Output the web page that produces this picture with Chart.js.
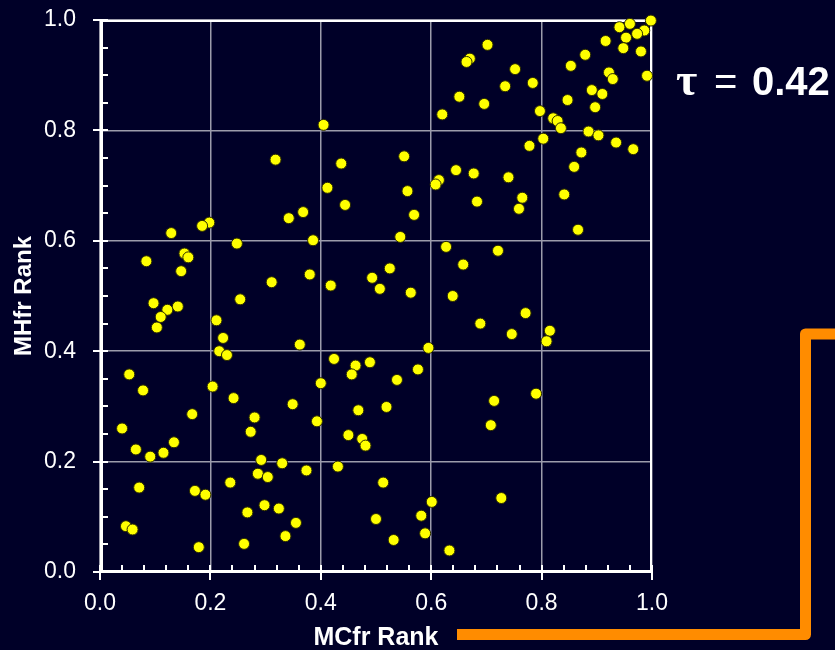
<!DOCTYPE html>
<html>
<head>
<meta charset="utf-8">
<script src="https://cdn.jsdelivr.net/npm/chart.js@4.4.1/dist/chart.umd.min.js"></script>
<style>
  html, body { margin: 0; padding: 0; background: #000028; }
  canvas { display: block; }
</style>
</head>
<body>
<canvas id="myScatter" width="835" height="650"></canvas>
<script>
  // MCfr rank (x) vs MHfr rank (y)
  const mc_rank = [
    0.998, 0.960, 0.941, 0.986, 0.973, 0.953, 0.916, 0.948, 0.980, 0.991,
    0.879, 0.853, 0.702, 0.670, 0.664, 0.922, 0.929, 0.752, 0.734, 0.784,
    0.891, 0.910, 0.847, 0.897, 0.651, 0.696, 0.620, 0.797, 0.821, 0.829,
    0.835, 0.885, 0.903, 0.935, 0.966, 0.803, 0.778, 0.872, 0.859, 0.551,
    0.645, 0.677, 0.740, 0.614, 0.608, 0.557, 0.683, 0.765, 0.759, 0.841,
    0.569, 0.405, 0.318, 0.437, 0.412, 0.444, 0.368, 0.342, 0.198, 0.185,
    0.129, 0.248, 0.386, 0.153, 0.160, 0.084, 0.147, 0.311, 0.380, 0.418,
    0.493, 0.254, 0.097, 0.141, 0.122, 0.110, 0.103, 0.211, 0.223, 0.216,
    0.230, 0.362, 0.424, 0.463, 0.456, 0.489, 0.053, 0.078, 0.204, 0.242,
    0.349, 0.400, 0.468, 0.866, 0.544, 0.627, 0.721, 0.658, 0.525, 0.507,
    0.563, 0.639, 0.771, 0.689, 0.746, 0.815, 0.809, 0.595, 0.576, 0.538,
    0.519, 0.714, 0.790, 0.167, 0.040, 0.280, 0.273, 0.393, 0.450, 0.475,
    0.481, 0.065, 0.091, 0.115, 0.134, 0.292, 0.330, 0.286, 0.304, 0.374,
    0.431, 0.071, 0.172, 0.191, 0.236, 0.298, 0.324, 0.267, 0.355, 0.336,
    0.261, 0.179, 0.047, 0.059, 0.708, 0.513, 0.601, 0.727, 0.500, 0.582,
    0.589, 0.532, 0.633
  ];
  const mh_rank = [
    0.999, 0.993, 0.987, 0.981, 0.975, 0.968, 0.962, 0.949, 0.943, 0.899,
    0.937, 0.917, 0.955, 0.930, 0.924, 0.905, 0.893, 0.911, 0.880, 0.886,
    0.873, 0.866, 0.855, 0.842, 0.861, 0.848, 0.829, 0.835, 0.822, 0.817,
    0.804, 0.798, 0.791, 0.778, 0.766, 0.785, 0.772, 0.760, 0.734, 0.753,
    0.728, 0.722, 0.715, 0.710, 0.702, 0.690, 0.671, 0.678, 0.658, 0.684,
    0.647, 0.810, 0.747, 0.740, 0.696, 0.665, 0.652, 0.641, 0.633, 0.627,
    0.614, 0.595, 0.601, 0.577, 0.570, 0.563, 0.545, 0.525, 0.539, 0.519,
    0.533, 0.494, 0.487, 0.481, 0.475, 0.462, 0.443, 0.456, 0.424, 0.400,
    0.393, 0.412, 0.386, 0.374, 0.358, 0.380, 0.358, 0.329, 0.336, 0.315,
    0.304, 0.342, 0.293, 0.620, 0.607, 0.589, 0.582, 0.557, 0.550, 0.513,
    0.506, 0.500, 0.469, 0.450, 0.431, 0.437, 0.418, 0.406, 0.367, 0.348,
    0.299, 0.310, 0.323, 0.286, 0.260, 0.280, 0.254, 0.273, 0.248, 0.241,
    0.229, 0.222, 0.209, 0.216, 0.235, 0.203, 0.197, 0.178, 0.172, 0.184,
    0.191, 0.153, 0.147, 0.140, 0.162, 0.121, 0.115, 0.108, 0.089, 0.065,
    0.051, 0.045, 0.083, 0.077, 0.266, 0.162, 0.127, 0.134, 0.096, 0.102,
    0.070, 0.058, 0.039
  ];
  const tick_labels = ['0.0', '0.2', '0.4', '0.6', '0.8', '1.0'];
  const x_minor_step = 0.04;
  const y_minor_step = 0.05;
  const tau_value = '0.42';

  const my_scatter = document.getElementById('myScatter');
  const sans = "'Liberation Sans', Arial, sans-serif";

  const points = mc_rank.map((x, i) => ({ x: x, y: mh_rank[i] }));

  // white axes, frame and tick marks (minor ticks point inwards)
  const axes_plugin = {
    id: 'axesDeco',
    beforeDatasetsDraw(chart) {
      const ctx = chart.ctx;
      const a = chart.chartArea;
      const xs = chart.scales.x, ys = chart.scales.y;
      ctx.save();
      ctx.strokeStyle = '#ffffff';
      ctx.lineWidth = 2;
      ctx.beginPath();
      ctx.moveTo(a.left, a.top + 1); ctx.lineTo(a.right - 1, a.top + 1); ctx.lineTo(a.right - 1, a.bottom);
      ctx.stroke();

      ctx.lineWidth = 2;
      ctx.beginPath();
      for (let v = 0; v <= 1.0001; v += x_minor_step) {
        const px = Math.round(xs.getPixelForValue(v));
        const major = Math.abs(v * 5 - Math.round(v * 5)) < 1e-6;
        ctx.moveTo(px, a.bottom - 7);
        ctx.lineTo(px, major ? a.bottom + 8 : a.bottom);
      }
      for (let v = 0; v <= 1.0001; v += y_minor_step) {
        const py = Math.round(ys.getPixelForValue(v));
        const major = Math.abs(v * 5 - Math.round(v * 5)) < 1e-6;
        ctx.moveTo(major ? a.left - 7 : a.left, py);
        ctx.lineTo(a.left + 8, py);
      }
      ctx.stroke();

      ctx.lineWidth = 3;
      ctx.beginPath();
      ctx.moveTo(a.left + 1.5, a.top);
      ctx.lineTo(a.left + 1.5, a.bottom - 0.5);
      ctx.lineTo(a.right, a.bottom - 0.5);
      ctx.stroke();
      ctx.restore();
    },
    afterDraw(chart) {
      const ctx = chart.ctx;
      ctx.save();
      // tau annotation
      ctx.fillStyle = '#ffffff';
      ctx.textBaseline = 'alphabetic';
      ctx.font = "bold 46px 'Liberation Serif', serif";
      ctx.fillText('τ', 676, 95);
      ctx.font = "40px " + sans;
      ctx.fillText('=', 714, 95);
      ctx.font = "bold 40px " + sans;
      ctx.fillText(tau_value, 752, 95);

      // orange connector line
      ctx.strokeStyle = '#ff8c00';
      ctx.lineWidth = 11;
      ctx.lineJoin = 'round';
      ctx.beginPath();
      ctx.moveTo(457, 634.5);
      ctx.lineTo(805.5, 634.5);
      ctx.lineTo(805.5, 334);
      ctx.lineTo(840, 334);
      ctx.stroke();
      ctx.restore();
    }
  };

  new Chart(my_scatter, {
    type: 'scatter',
    data: {
      datasets: [{
        label: 'Ranks',
        data: points,
        backgroundColor: '#ffff00',
        borderColor: '#2a2a00',
        borderWidth: 1,
        pointRadius: 5.5,
        clip: false
      }]
    },
    options: {
      responsive: false,
      animation: false,
      layout: { padding: { top: 20, right: 183, left: 0, bottom: 0 } },
      plugins: { legend: { display: false }, tooltip: { enabled: false } },
      scales: {
        x: {
          type: 'linear',
          min: 0, max: 1,
          afterFit(scale) {
            scale.height = 78;
            scale.paddingLeft = 0; scale.paddingRight = 0;
          },
          border: { display: false },
          grid: { color: '#9c9cab', lineWidth: 1.5, drawTicks: false },
          ticks: {
            stepSize: 0.2,
            padding: 18,
            color: '#ffffff',
            font: { family: sans, size: 23 },
            callback: (v, i) => tick_labels[i]
          },
          title: {
            display: true,
            text: 'MCfr Rank',
            color: '#ffffff',
            font: { family: sans, size: 25, weight: 'bold' },
            padding: { top: 0, bottom: -3 }
          }
        },
        y: {
          type: 'linear',
          min: 0, max: 1,
          afterFit(scale) {
            scale.width = 100;
            scale.paddingTop = 0; scale.paddingBottom = 0;
          },
          border: { display: false },
          grid: { color: '#9c9cab', lineWidth: 1.5, drawTicks: false },
          ticks: {
            stepSize: 0.2,
            padding: 24,
            color: '#ffffff',
            font: { family: sans, size: 23 },
            callback: (v, i) => tick_labels[i]
          },
          title: {
            display: true,
            text: 'MHfr Rank',
            color: '#ffffff',
            font: { family: sans, size: 24, weight: 'bold' },
            padding: { top: 10, bottom: 0 }
          }
        }
      }
    },
    plugins: [axes_plugin]
  });
</script>
</body>
</html>
